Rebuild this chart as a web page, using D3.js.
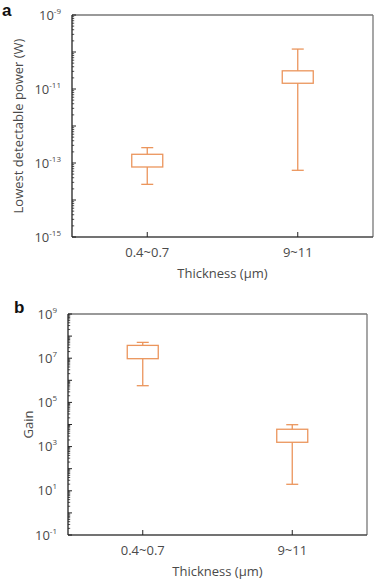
<!DOCTYPE html>
<html><head><meta charset="utf-8">
<script src="https://cdn.jsdelivr.net/npm/d3@7"></script>
<style>body{margin:0;background:#fff}svg{display:block}</style>
</head><body>
<script>
const categories = ["0.4~0.7", "9~11"];
// [whiskerLow, boxLow, boxHigh, whiskerHigh]
const powerStats = [[2.65e-14, 7.8e-14, 1.72e-13, 2.6e-13], [6.35e-14, 1.43e-11, 3.1e-11, 1.2e-10]];
const gainStats = [[5.7e5, 9.5e6, 3.8e7, 5.2e7], [19.7, 1.57e3, 6.1e3, 9.8e3]];
const powerExps = [-9, -11, -13, -15];
const gainExps = [9, 7, 5, 3, 1, -1];

const W = 391, H = 587;
const svg = d3.select("body").append("svg").attr("width", W).attr("height", H);
const font = "'Open Sans', 'Noto Sans', sans-serif";
const orange = "#EB955C";
const txt = "#4a4a4a";

function panel(opts) {
  const {x0, x1, y0, y1, domain, stats, labelExps, ytitle, ytitleX, letter, lx, ly} = opts;
  const g = svg.append("g");
  const x = d3.scalePoint().domain(categories).range([x0, x1]).padding(0.5);
  const y = d3.scaleLog().domain(domain).range([y1, y0]);
  const lo = Math.round(Math.log10(domain[0])), hi = Math.round(Math.log10(domain[1]));
  // frame
  g.append("line").attr("x1", x0).attr("x2", x1).attr("y1", y0).attr("y2", y0).attr("stroke", "#777").attr("stroke-width", 1.3);
  g.append("line").attr("x1", x1).attr("x2", x1).attr("y1", y0).attr("y2", y1).attr("stroke", "#777").attr("stroke-width", 1.3);
  g.append("line").attr("x1", x0).attr("x2", x1).attr("y1", y1).attr("y2", y1).attr("stroke", "#444").attr("stroke-width", 1.3);
  g.append("line").attr("x1", x0).attr("x2", x0).attr("y1", y0).attr("y2", y1).attr("stroke", "#222").attr("stroke-width", 1.3);
  // y ticks
  for (let e = lo; e <= hi; e++) {
    g.append("line").attr("x1", x0).attr("x2", x0 + 4).attr("y1", y(Math.pow(10, e))).attr("y2", y(Math.pow(10, e))).attr("stroke", "#222");
    if (e < hi) for (let m = 2; m <= 9; m++) {
      const yy = y(m * Math.pow(10, e));
      g.append("line").attr("x1", x0).attr("x2", x0 + 2.2).attr("y1", yy).attr("y2", yy).attr("stroke", "#222").attr("stroke-width", 0.8);
    }
  }
  labelExps.forEach(e => {
    const t = g.append("text").attr("x", x0 - 11).attr("y", y(Math.pow(10, e)) + 4.5).attr("text-anchor", "end")
      .attr("font-family", font).attr("font-size", 13).attr("fill", txt);
    t.append("tspan").text("10");
    t.append("tspan").attr("dy", -6).attr("font-size", 8).text(String(e));
  });
  // x ticks
  categories.forEach(c => {
    g.append("line").attr("x1", x(c)).attr("x2", x(c)).attr("y1", y1).attr("y2", y1 - 5).attr("stroke", "#222");
    g.append("text").attr("x", x(c)).attr("y", y1 + 20).attr("text-anchor", "middle")
      .attr("font-family", font).attr("font-size", 13).attr("fill", txt).text(c);
  });
  g.append("text").attr("x", (x0 + x1) / 2).attr("y", y1 + 41).attr("text-anchor", "middle")
    .attr("font-family", font).attr("font-size", 13).attr("fill", txt).text("Thickness (μm)");
  g.append("text").attr("transform", `translate(${ytitleX},${(y0 + y1) / 2}) rotate(-90)`).attr("text-anchor", "middle")
    .attr("font-family", font).attr("font-size", 13).attr("fill", txt).text(ytitle);
  g.append("text").attr("x", lx).attr("y", ly).attr("font-family", "'Liberation Sans', Arial, sans-serif").attr("font-size", 17).attr("font-weight", "bold").attr("fill", "#111").text(letter);
  // boxes
  const bw = 31, cw = 12;
  stats.forEach((s, i) => {
    const cx = x(categories[i]);
    const bg = g.append("g").attr("stroke", orange).attr("fill", "none").attr("stroke-width", 1.3);
    bg.append("line").attr("x1", cx).attr("x2", cx).attr("y1", y(s[0])).attr("y2", y(s[1]));
    bg.append("line").attr("x1", cx).attr("x2", cx).attr("y1", y(s[2])).attr("y2", y(s[3]));
    bg.append("line").attr("x1", cx - cw / 2).attr("x2", cx + cw / 2).attr("y1", y(s[0])).attr("y2", y(s[0]));
    bg.append("line").attr("x1", cx - cw / 2).attr("x2", cx + cw / 2).attr("y1", y(s[3])).attr("y2", y(s[3]));
    bg.append("rect").attr("x", cx - bw / 2).attr("width", bw).attr("y", y(s[2])).attr("height", y(s[1]) - y(s[2]));
  });
}

panel({x0: 72, x1: 373, y0: 15, y1: 237, domain: [1e-15, 1e-9], stats: powerStats, labelExps: powerExps,
  ytitle: "Lowest detectable power (W)", ytitleX: 23, letter: "a", lx: 2, ly: 16});
panel({x0: 68, x1: 367, y0: 314, y1: 535, domain: [1e-1, 1e9], stats: gainStats, labelExps: gainExps,
  ytitle: "Gain", ytitleX: 33, letter: "b", lx: 14, ly: 313});
</script>
</body></html>
